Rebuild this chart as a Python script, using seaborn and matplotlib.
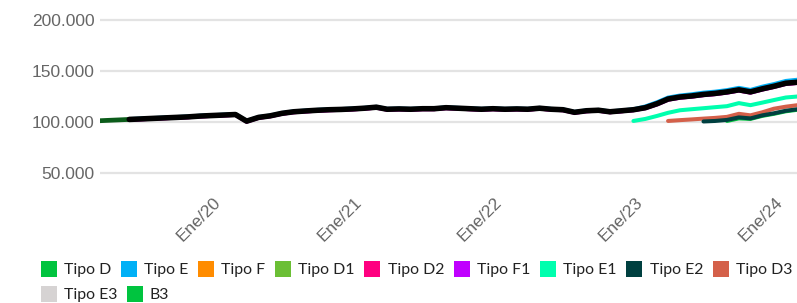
import matplotlib
matplotlib.use("Agg")
import matplotlib.pyplot as plt
from matplotlib.lines import Line2D
import seaborn as sns
import pandas as pd
import numpy as np

# ---------------- data (values in thousands) ----------------
fechas = pd.date_range("2019-02-01", periods=61, freq="MS")

indice = [None, None, None, 102.5, 103.0, 103.5, 104.0, 104.5, 105.0, 105.8,
          106.3, 106.8, 107.3, 100.8, 104.5, 106.0, 108.5, 110.0, 110.8, 111.5,
          112.0, 112.3, 112.8, 113.5, 114.5, 112.5, 112.8, 112.5, 113.0, 113.0,
          114.0, 113.5, 113.0, 112.5, 113.0, 112.5, 112.8, 112.5, 113.5, 112.5,
          112.0, 109.5, 111.0, 111.5, 110.0, 111.0, 112.0, 114.0, 118.0, 122.5,
          124.5, 125.5, 127.0, 128.0, 129.5, 131.5, 129.5, 132.5, 135.0, 138.0,
          139.0]
inicio = [101.0, 101.5, 102.0, 102.5] + [None] * 57

tipo_e = [None, None, None, 102.9, 103.4, 103.9, 104.4, 104.9, 105.4, 106.2,
          106.7, 107.2, 107.7, 101.2, 104.9, 106.4, 108.9, 110.4, 111.2, 111.9,
          112.4, 112.7, 113.2, 113.9, 114.9, 112.9, 113.2, 112.9, 113.4, 113.4,
          114.4, 113.9, 113.4, 112.9, 113.4, 112.9, 113.2, 112.9, 113.9, 112.9,
          112.4, 109.9, 111.4, 111.9, 110.4, 111.4, 112.5, 115.3, 119.5, 124.0,
          126.0, 127.2, 128.8, 129.8, 131.3, 133.5, 131.5, 134.7, 137.2, 140.3,
          141.5]
tipo_f1 = [None, None, None, 102.0, 102.6, 103.1, 103.6, 104.1, 104.6, 105.4,
           105.9, 106.4, 106.9, 100.3, 104.0, 105.5, 108.0, 109.5, 110.3, 111.0,
           111.5, 111.8, 112.3, 113.0, 114.0, 112.0, 112.3, 112.0, 112.5, 112.5,
           113.5, 113.0, 112.5, 112.0, 112.5, 112.0, 112.3, 112.0, 113.0, 112.0,
           111.5, 109.0, 110.5, 111.0, 109.5, 110.5, 111.5, 113.5, 117.3, 121.8,
           123.8, 124.8, 126.3, 127.3, 128.8, 130.8, 128.8, 131.8, 134.3, 137.3,
           138.3]
tipo_d = indice
tipo_f = indice
tipo_d1 = indice
tipo_d2 = tipo_f1
tipo_e1 = [None] * 46 + [101.0, 103.0, 106.0, 109.0, 111.5, 112.5, 113.5, 114.5,
                         115.5, 118.5, 116.5, 119.0, 121.5, 124.0, 125.0]
tipo_d3 = [None] * 49 + [101.0, 101.8, 102.5, 103.3, 104.0, 105.0, 108.0, 106.5,
                         109.5, 113.0, 115.0, 116.5]
tipo_e2 = [None] * 52 + [100.5, 101.0, 102.0, 104.5, 103.5, 106.5, 108.5, 111.0, 112.5]
tipo_e3 = [None] * 61
b3 = [None] * 54 + [101.0, 103.5, 103.0, 106.0, 108.0, 110.5, 112.0]

series_names = ["Tipo D", "Tipo E", "Tipo F", "Tipo D1", "Tipo D2", "Tipo F1",
                "Tipo E1", "Tipo E2", "Tipo D3", "Tipo E3", "B3"]
series_vals = [tipo_d, tipo_e, tipo_f, tipo_d1, tipo_d2, tipo_f1,
               tipo_e1, tipo_e2, tipo_d3, tipo_e3, b3]
colors = ["#00c43f", "#00b0f6", "#ff8c00", "#6bbf35", "#ff0080", "#c000ff",
          "#00ffae", "#004040", "#d4604a", "#d6d3d3", "#00c43f"]

y_ticks = [50000, 100000, 150000, 200000]
x_tick_dates = pd.to_datetime(["2020-01-01", "2021-01-01", "2022-01-01",
                               "2023-01-01", "2024-01-01"])
x_tick_labels = ["Ene/20", "Ene/21", "Ene/22", "Ene/23", "Ene/24"]

# ---------------- figure ----------------
sns.set_theme(style="white")
plt.rcParams["font.family"] = ["Liberation Sans", "DejaVu Sans"]

fig = plt.figure(figsize=(7.97, 3.03), dpi=100)
ax = fig.add_axes([100 / 797, 1 - 190 / 303, 697 / 797, 175 / 303])

def frame(vals):
    return pd.DataFrame({"fecha": fechas,
                         "valor": pd.to_numeric(pd.Series(vals), errors="coerce") * 1000})

draw_under = ["Tipo D", "Tipo F", "Tipo D1", "Tipo D2", "Tipo F1", "Tipo E"]
for name in draw_under:
    i = series_names.index(name)
    sns.lineplot(data=frame(series_vals[i]), x="fecha", y="valor", ax=ax,
                 color=colors[i], linewidth=2.8, legend=False, zorder=3)

sns.lineplot(data=frame(inicio), x="fecha", y="valor", ax=ax,
             color="#0b5c1a", linewidth=3.4, legend=False, zorder=4)
sns.lineplot(data=frame(indice), x="fecha", y="valor", ax=ax,
             color="#000000", linewidth=4.0, legend=False, zorder=5)

for name in ["Tipo E1", "Tipo D3", "B3", "Tipo E2"]:
    i = series_names.index(name)
    sns.lineplot(data=frame(series_vals[i]), x="fecha", y="valor", ax=ax,
                 color=colors[i], linewidth=2.9, legend=False, zorder=6)

ax.set_xlim(pd.Timestamp("2019-02-14"), pd.Timestamp("2024-01-30"))
ax.set_ylim(33300, 204900)
ax.set_yticks(y_ticks)
ax.set_yticklabels([f"{v:,}".replace(",", ".") for v in y_ticks])
ax.set_xticks(x_tick_dates)
ax.set_xticklabels(x_tick_labels, rotation=45, ha="right")
ax.set_xlabel("")
ax.set_ylabel("")
ax.tick_params(axis="both", length=0, labelsize=12.5, labelcolor="#666666")
ax.tick_params(axis="y", pad=4)
ax.tick_params(axis="x", pad=3)
ax.grid(axis="y", color="#e3e3e3", linewidth=1.6)
ax.grid(axis="x", visible=False)
for s in ax.spines.values():
    s.set_visible(False)

def handles(names):
    return [Line2D([], [], linestyle="none", marker="s", markersize=11,
                   markerfacecolor=colors[series_names.index(n)],
                   markeredgewidth=0) for n in names]

row1 = series_names[:9]
row2 = series_names[9:]
leg_kw = dict(frameon=False, ncol=9, loc="upper left", borderaxespad=0,
              borderpad=0, handlelength=0.95, handletextpad=0.48,
              columnspacing=0.65,
              prop={"family": ["Lato", "DejaVu Sans"], "size": 11.4})
l1 = fig.legend(handles(row1), row1, bbox_to_anchor=(41 / 797, 1 - 263 / 303), **leg_kw)
l2 = fig.legend(handles(row2), row2, bbox_to_anchor=(41 / 797, 1 - 288 / 303), **leg_kw)
for lg in (l1, l2):
    for t in lg.get_texts():
        t.set_color("#222222")

fig.savefig("out.png", dpi=100)
